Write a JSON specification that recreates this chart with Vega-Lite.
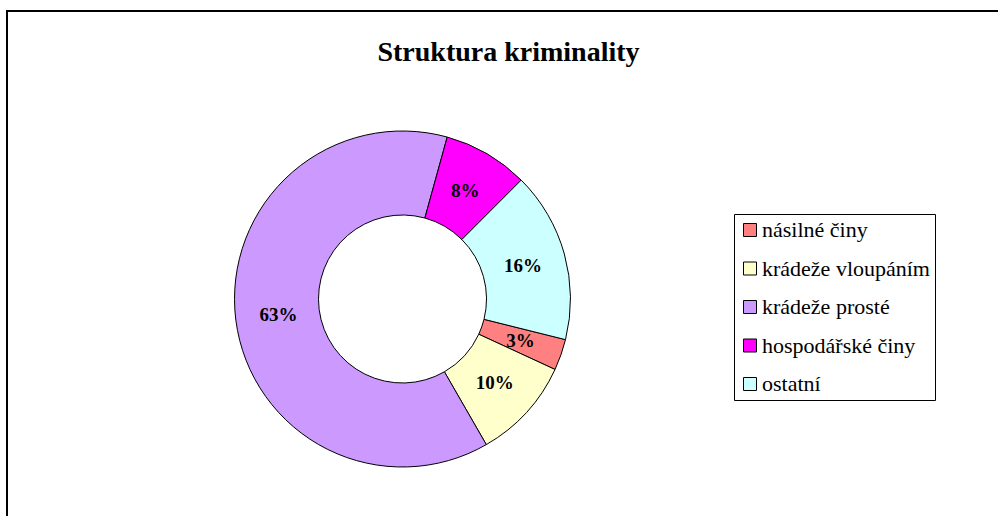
{
  "$schema": "https://vega.github.io/schema/vega-lite/v6.json",
  "autosize": {"type": "none"},
  "padding": {"left": 7, "top": 11, "right": 0, "bottom": 0},
  "width": 1003,
  "height": 520,
  "background": "white",
  "view": {"stroke": "black", "strokeWidth": 2, "fill": "white"},
  "config": {
    "view": {"stroke": "black", "strokeWidth": 2, "fill": "white"},
    "font": "Liberation Serif"
  },
  "title": {
    "text": "Struktura kriminality",
    "font": "Liberation Serif",
    "fontSize": 28,
    "fontWeight": "bold",
    "color": "black",
    "anchor": "middle",
    "frame": "group",
    "baseline": "alphabetic",
    "offset": 0,
    "dy": 78
  },
  "data": {
    "values": [
      {"kategorie": "násilné činy", "podil": 3.0, "poradi": 1, "popisek": "3%"},
      {"kategorie": "krádeže vloupáním", "podil": 9.8, "poradi": 2, "popisek": "10%"},
      {"kategorie": "krádeže prosté", "podil": 62.6, "poradi": 3, "popisek": "63%"},
      {"kategorie": "hospodářské činy", "podil": 8.2, "poradi": 4, "popisek": "8%"},
      {"kategorie": "ostatní", "podil": 16.4, "poradi": 5, "popisek": "16%"}
    ]
  },
  "encoding": {
    "theta": {
      "field": "podil",
      "type": "quantitative",
      "stack": true,
      "scale": {"domain": [0, 100], "range": [1.8151, 8.0983]}
    },
    "order": {"field": "poradi", "type": "quantitative"}
  },
  "layer": [
    {
      "mark": {
        "type": "arc",
        "outerRadius": 168,
        "innerRadius": 84,
        "stroke": "black",
        "strokeWidth": 1,
        "x": {"expr": "width/2 - 106"},
        "y": {"expr": "height/2 + 28"}
      },
      "encoding": {
        "color": {
          "field": "kategorie",
          "type": "nominal",
          "scale": {
            "domain": ["násilné činy", "krádeže vloupáním", "krádeže prosté", "hospodářské činy", "ostatní"],
            "range": ["#FF8080", "#FFFFCC", "#CC99FF", "#FF00FF", "#CCFFFF"]
          },
          "legend": {
            "title": null,
            "orient": "none",
            "legendX": 727,
            "legendY": 203,
            "padding": 5,
            "fillColor": "white",
            "strokeColor": "black",
            "symbolType": "square",
            "symbolSize": 169,
            "symbolStrokeColor": "black",
            "symbolStrokeWidth": 1,
            "symbolOpacity": 1,
            "labelFont": "Liberation Serif",
            "labelFontSize": 22,
            "labelColor": "black",
            "labelOffset": 1,
            "labelLimit": 400,
            "rowPadding": 16.5
          }
        }
      }
    },
    {
      "mark": {
        "type": "text",
        "radius": 125,
        "font": "Liberation Serif",
        "fontSize": 19,
        "fontWeight": "bold",
        "color": "black",
        "x": {"expr": "width/2 - 106"},
        "y": {"expr": "height/2 + 28"}
      },
      "encoding": {
        "text": {"field": "popisek", "type": "nominal"}
      }
    }
  ]
}
